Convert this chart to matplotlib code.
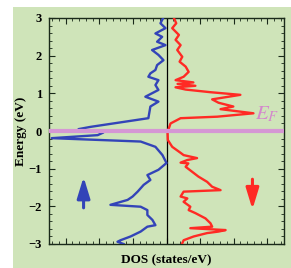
"""Spin-resolved DOS around the Fermi level (spin up left, spin down right)."""

import matplotlib

matplotlib.use("Agg")
import matplotlib.pyplot as plt
from matplotlib.patches import Rectangle
from matplotlib.ticker import MultipleLocator, NullFormatter

plt.rcParams["mathtext.fontset"] = "stix"

# spin-up DOS (plotted to the left), energy in eV
up_energy = [3.00, 2.86, 2.73, 2.59, 2.50, 2.37, 2.28, 2.15, 2.02, 1.88, 1.75, 1.62,
             1.53, 1.44, 1.35, 1.22, 1.09, 0.91, 0.78, 0.65, 0.34, 0.11, 0.05, -0.04,
             -0.11, -0.19, -0.28, -0.42, -0.64, -0.85, -1.03, -1.17, -1.30, -1.43,
             -1.61, -1.74, -1.83, -1.96, -2.01, -2.10, -2.23, -2.36, -2.50, -2.54,
             -2.67, -2.80, -2.90, -2.94, -3.00]
up_dos = [0.10, 0.18, 0.03, 0.33, 0.13, 0.28, 0.03, 0.43, 0.24, 0.09, 0.28, 0.33,
          0.48, 0.54, 0.24, 0.33, 0.24, 0.63, 0.24, 0.48, 0.54, 2.26, 2.62, 1.88,
          2.05, 3.42, 0.77, 0.33, 0.12, 0.00, 0.24, 0.57, 0.48, 0.68,
          0.86, 1.01, 1.16, 1.67, 0.77, 0.57, 0.57, 0.42, 0.33, 0.57,
          0.77, 1.07, 1.37, 1.46, 1.28]

# spin-down DOS (plotted to the right)
down_energy = [3.00, 2.86, 2.73, 2.55, 2.42, 2.28, 2.15, 1.97, 1.84, 1.71, 1.57, 1.44,
               1.35, 1.29, 1.25, 1.20, 1.16, 1.10, 1.03, 0.96, 0.84, 0.75, 0.65, 0.58,
               0.47, 0.38, 0.34, 0.20, 0.07, 0.00, -0.24, -0.42, -0.58, -0.64, -0.72,
               -0.77, -0.84, -0.86, -0.95, -1.08, -1.21, -1.35, -1.48, -1.57, -1.61,
               -1.74, -1.79, -1.88, -2.01, -2.10, -2.18, -2.32, -2.45, -2.54, -2.58,
               -2.63, -2.67, -2.71, -2.80, -2.90, -2.98]
down_dos = [0.22, 0.29, 0.17, 0.37, 0.27, 0.42, 0.32, 0.47, 0.39, 0.57, 0.66, 0.51,
            0.27, 0.80, 0.33, 0.86, 0.27, 0.57, 1.31, 2.20, 1.36, 1.55, 1.99, 1.61,
            2.59, 1.51, 0.42, 0.12, 0.07, 0.03, 0.04, 0.17, 0.42, 0.51, 0.91,
            0.62, 0.42, 0.65, 0.57, 0.76, 0.95, 1.21, 1.36, 1.61, 0.51,
            0.42, 0.62, 0.51, 0.71, 0.66, 0.86, 1.16, 1.31, 1.36, 0.71,
            1.76, 1.55, 1.21, 0.81, 0.51, 0.47]

energy_ticks = [-3, -2, -1, 0, 1, 2, 3]

green = "#cfe4b9"
blue = "#3344b8"
red = "#ff2a24"
pink = "#d597d4"
serif = ["Liberation Serif", "DejaVu Serif"]

fig = plt.figure(figsize=(2.91, 2.68), dpi=100, facecolor="white")
background = Rectangle((13 / 291, 0), 1, 1 - 7 / 268, transform=fig.transFigure,
                       facecolor=green, edgecolor="none", zorder=-10)
fig.add_artist(background)
ax = fig.add_axes([49 / 291, 24 / 268, 235 / 291, 226 / 268])
ax.set_facecolor(green)

ax.plot([-d for d in up_dos], up_energy, color=blue, lw=1.7, zorder=3)
ax.plot(down_dos, down_energy, color=red, lw=1.7, zorder=3)
ax.axvline(0, color="black", lw=0.9, zorder=2)
ax.axhline(0, color=pink, lw=3.0, zorder=4)

ax.text(2.65, 0.30, r"$E_F$", color="#d487cc", fontsize=15,
        ha="left", va="baseline", zorder=5)

arrow_style = "-|>,head_length=0.85,head_width=0.26"
ax.annotate("", xy=(-2.47, -1.22), xytext=(-2.47, -2.04),
            arrowprops=dict(arrowstyle=arrow_style, mutation_scale=15, color=blue,
                            lw=2.2, shrinkA=0, shrinkB=0))
ax.annotate("", xy=(2.56, -2.08), xytext=(2.56, -1.28),
            arrowprops=dict(arrowstyle=arrow_style, mutation_scale=15, color=red,
                            lw=2.2, shrinkA=0, shrinkB=0))

ax.set_xlim(-3.5, 3.5)
ax.set_ylim(-3, 3)
ax.set_yticks(energy_ticks)
ax.xaxis.set_major_locator(MultipleLocator(1.0))
ax.xaxis.set_minor_locator(MultipleLocator(0.2))
ax.yaxis.set_minor_locator(MultipleLocator(0.2))
ax.xaxis.set_major_formatter(NullFormatter())
ax.tick_params(which="both", direction="in", top=True, right=True, color="#1a2a1a")
ax.tick_params(which="major", length=4, width=0.8, pad=5)
ax.tick_params(which="minor", length=2, width=0.6)
for label in ax.get_yticklabels():
    label.set_family(serif)
    label.set_fontweight("bold")
    label.set_fontsize(9)
for spine in ax.spines.values():
    spine.set_linewidth(1.0)
    spine.set_color("#1a2a1a")

ax.set_ylabel("Energy (eV)", family=serif, fontweight="bold", fontsize=9.5)
ax.set_xlabel("DOS (states/eV)", family=serif, fontweight="bold", fontsize=9.5)
ax.yaxis.set_label_coords(-0.095, 0.5)
ax.xaxis.set_label_coords(0.5, -0.045)

fig.savefig("out.png", dpi=100, facecolor=fig.get_facecolor())
